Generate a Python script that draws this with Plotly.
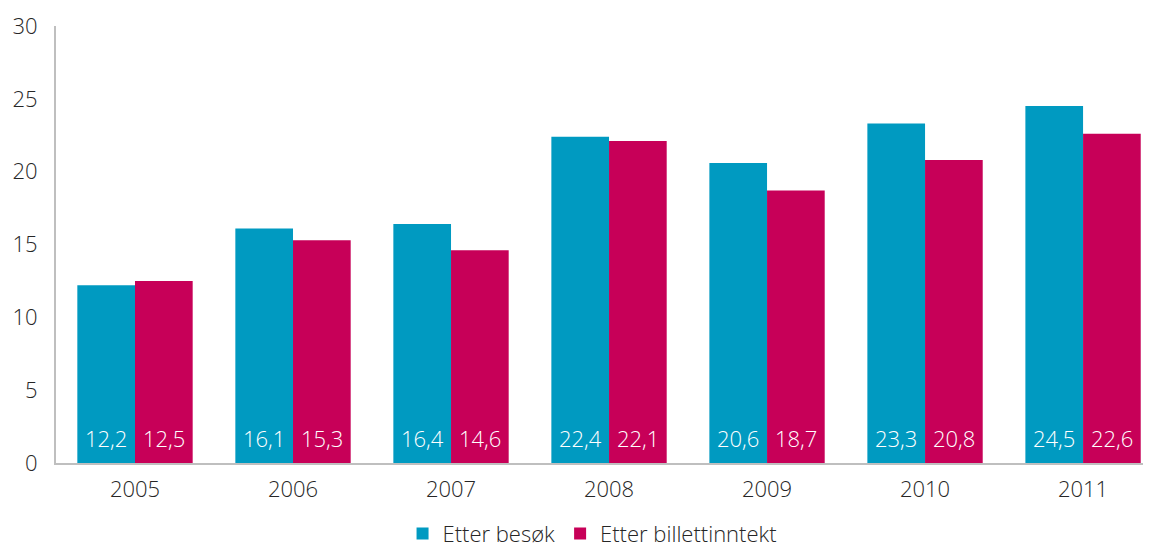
import plotly.graph_objects as go

years = ["2005", "2006", "2007", "2008", "2009", "2010", "2011"]
besok = [12.2, 16.1, 16.4, 22.4, 20.6, 23.3, 24.5]
billett = [12.5, 15.3, 14.6, 22.1, 18.7, 20.8, 22.6]
series_names = ["Etter besøk", "Etter billettinntekt"]
colors = ["#009AC1", "#C70058"]

xpos = list(range(len(years)))

def fmt(v):
    return f"{v:.1f}".replace(".", ",")

FONT = "Open Sans"
BARGAP = 0.27
half = (1 - BARGAP) / 4  # centre offset of each bar in a group of two

fig = go.Figure()
annotations = []
for k, (name, vals, col) in enumerate(zip(series_names, [besok, billett], colors)):
    fig.add_trace(go.Bar(
        x=xpos, y=vals, name=name, marker_color=col, marker_line_width=0,
    ))
    off = -half if k == 0 else half
    for i, v in zip(xpos, vals):
        annotations.append(dict(
            x=i + off, y=0, xref="x", yref="y", text=fmt(v), showarrow=False,
            yanchor="bottom", yshift=8,
            font=dict(color="white", size=22, family=FONT, weight=300),
        ))

fig.update_layout(
    width=1143, height=539,
    margin=dict(l=48, r=0, t=18, b=84, autoexpand=False),
    paper_bgcolor="white", plot_bgcolor="white",
    font=dict(family=FONT, size=22, color="#262626", weight=300),
    barmode="group", bargap=BARGAP, bargroupgap=0,
    showlegend=True,
    legend=dict(orientation="h", x=0.49, xanchor="center", y=-0.162, yanchor="middle",
                font=dict(size=22, family=FONT, weight=300), itemwidth=30,
                traceorder="normal", tracegroupgap=0),
    annotations=annotations,
)
fig.update_xaxes(
    tickvals=xpos, ticktext=years, range=[-0.5, 6.43], automargin=False,
    showline=True, linecolor="#BFBFBF", linewidth=2, showgrid=False, ticks="",
    zeroline=False, ticklabelstandoff=6,
)
fig.update_yaxes(
    range=[0, 30], dtick=5, showline=True, linecolor="#BFBFBF", linewidth=2, automargin=False,
    showgrid=False, zeroline=False, ticks="", ticklabelstandoff=12,
)
fig.write_html("out.html")
